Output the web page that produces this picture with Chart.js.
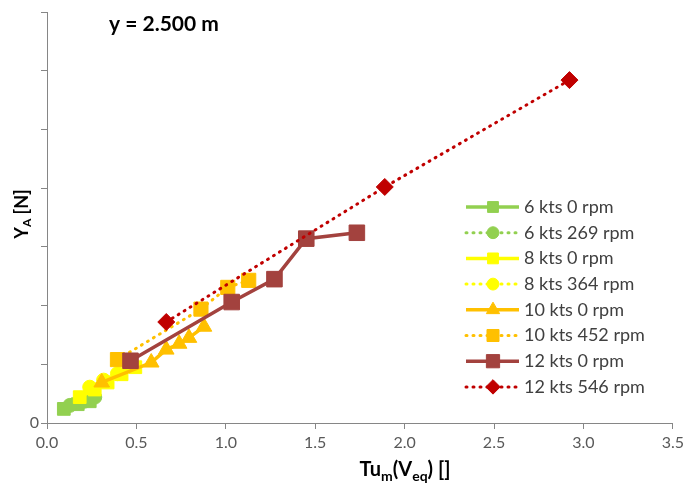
<!DOCTYPE html>
<html><head><meta charset="utf-8">
<script src="https://cdn.jsdelivr.net/npm/chart.js@4/dist/chart.umd.min.js"></script>
<style>html,body{margin:0;padding:0;background:#fff}#wrap{width:688px;height:487px}</style>
</head><body><div id="wrap"><canvas id="c" width="688" height="487"></canvas></div>
<script>
// ---- data ----
const seriesNames = ["6 kts 0 rpm","6 kts 269 rpm","8 kts 0 rpm","8 kts 364 rpm","10 kts 0 rpm","10 kts 452 rpm","12 kts 0 rpm","12 kts 546 rpm"];
const x6_0   = [0.094, 0.172, 0.239];
const y6_0   = [0.24, 0.32, 0.37];
const x6_269 = [0.128, 0.206, 0.267];
const y6_269 = [0.30, 0.37, 0.44];
const x8_0   = [0.183, 0.267, 0.339, 0.417, 0.494];
const y8_0   = [0.44, 0.57, 0.69, 0.83, 0.95];
const x8_364 = [0.239, 0.317, 0.394, 0.472];
const y8_364 = [0.61, 0.73, 0.84, 0.98];
const x10_0  = [0.306, 0.583, 0.667, 0.739, 0.794, 0.878];
const y10_0  = [0.69, 1.03, 1.25, 1.35, 1.45, 1.64];
const x10_452= [0.394, 0.861, 1.011, 1.128];
const y10_452= [1.08, 1.94, 2.31, 2.43];
const x12_0  = [0.467, 1.033, 1.272, 1.450, 1.733];
const y12_0  = [1.06, 2.06, 2.45, 3.14, 3.24];
const x12_546= [0.667, 1.889, 2.922];
const y12_546= [1.72, 4.02, 5.84];
const xTicks = [0, 0.5, 1.0, 1.5, 2.0, 2.5, 3.0, 3.5];
const yTickLabels = ["0"];
const chartTitle = "y = 2.500 m";

const xs = [x6_0,x6_269,x8_0,x8_364,x10_0,x10_452,x12_0,x12_546];
const ys = [y6_0,y6_269,y8_0,y8_364,y10_0,y10_452,y12_0,y12_546];
const colors = ["#92D050","#92D050","#FFFF00","#FFFF00","#FFC000","#FFC000","#A3423E","#C00000"];
const styles = ["rect","circle","rect","circle","triangle","rect","rect","rectRot"];
const radii  = [9,7,9,7,9,10,11,8.5];
const dotted = [false,true,false,true,false,true,false,true];

const datasets = seriesNames.map((name,i)=>({
  label: name,
  data: xs[i].map((x,j)=>({x:x, y:ys[i][j]})),
  showLine: true,
  borderColor: colors[i],
  backgroundColor: colors[i],
  pointBackgroundColor: colors[i],
  pointBorderColor: colors[i],
  pointBorderWidth: 1,
  pointStyle: styles[i],
  pointRadius: radii[i],
  pointHoverRadius: radii[i],
  borderWidth: dotted[i] ? 3 : 3.5,
  borderDash: dotted[i] ? [1,6] : [],
  borderCapStyle: dotted[i] ? 'round' : 'butt',
  tension: 0,
  order: seriesNames.length - i
}));

const FONT = "Lato, 'Liberation Sans', sans-serif";

function drawSub(ctx, parts, x, y, align, big, small){
  let w = 0;
  parts.forEach(p=>{ctx.font = "bold "+(p[1]?small:big)+"px "+FONT; w += ctx.measureText(p[0]).width;});
  let cx = align==='center' ? x - w/2 : x;
  parts.forEach(p=>{
    ctx.font = "bold "+(p[1]?small:big)+"px "+FONT;
    ctx.fillText(p[0], cx, p[1] ? y+Math.round(big*0.3) : y);
    cx += ctx.measureText(p[0]).width;
  });
}

const overlay = {
  id:'overlay',
  afterDraw(chart){
    const ctx = chart.ctx;
    ctx.save();
    ctx.fillStyle = "#000";
    ctx.textBaseline = "middle";
    ctx.textAlign = "left";
    ctx.font = "bold 21px "+FONT;
    ctx.fillText(chartTitle, 109, 24);
    // x title
    drawSub(ctx, [["Tu",false],["m",true],["(V",false],["eq",true],[") []",false]], 405, 470, 'center', 20, 14);
    // y title
    ctx.save();
    ctx.translate(22, 214);
    ctx.rotate(-Math.PI/2);
    drawSub(ctx, [["Y",false],["A",true],[" [N]",false]], 0, 0, 'center', 18, 12);
    ctx.restore();
    // legend
    const x0 = 466, x1 = 519, xm = 493, tx = 524;
    seriesNames.forEach((name,i)=>{
      const ds = chart.data.datasets[i];
      const y = 207 + i*25.7;
      ctx.save();
      ctx.strokeStyle = ds.borderColor;
      ctx.lineWidth = ds.borderWidth;
      ctx.lineCap = ds.borderCapStyle;
      ctx.setLineDash(ds.borderDash);
      ctx.beginPath(); ctx.moveTo(x0,y); ctx.lineTo(x1,y); ctx.stroke();
      ctx.restore();
      ctx.save();
      ctx.fillStyle = ds.pointBackgroundColor;
      ctx.strokeStyle = ds.pointBorderColor;
      ctx.lineWidth = 1;
      Chart.helpers.drawPoint(ctx, {pointStyle: ds.pointStyle, radius: ds.pointRadius*0.85, rotation:0, borderWidth:1}, xm, y);
      ctx.restore();
      ctx.fillStyle = "#404040";
      ctx.font = "18px "+FONT;
      ctx.textBaseline = "middle";
      ctx.fillText(name, tx, y);
    });
    ctx.restore();
  }
};

new Chart(document.getElementById('c'), {
  type: 'scatter',
  data: { datasets },
  options: {
    responsive: false,
    animation: false,
    devicePixelRatio: 1,
    layout: { padding: { top: 9, right: 1, left: 0, bottom: 0 } },
    plugins: { legend: { display: false }, tooltip: { enabled: false }, title: { display: false } },
    scales: {
      x: {
        type: 'linear', min: 0, max: 3.5,
        afterBuildTicks: s => { s.ticks = xTicks.map(v=>({value:v})); },
        ticks: { callback: v => Number(v).toFixed(1), color: '#595959', font: { family: FONT, size: 16 }, padding: 4, maxRotation: 0 },
        grid: { display: true, drawOnChartArea: false, drawTicks: true, tickLength: 6, color: '#868686' },
        border: { color: '#868686', width: 1 },
        afterFit: s => { s.height = 64; }
      },
      y: {
        type: 'linear', min: 0, max: 7,
        ticks: { stepSize: 1, callback: v => (v===0 ? yTickLabels[0] : ''), color: '#595959', font: { family: FONT, size: 16 }, padding: 2 },
        grid: { display: true, drawOnChartArea: false, drawTicks: true, tickLength: 6, color: '#868686' },
        border: { color: '#868686', width: 1 },
        afterFit: s => { s.width = 47; }
      }
    }
  },
  plugins: [overlay]
});
</script>
</body></html>
